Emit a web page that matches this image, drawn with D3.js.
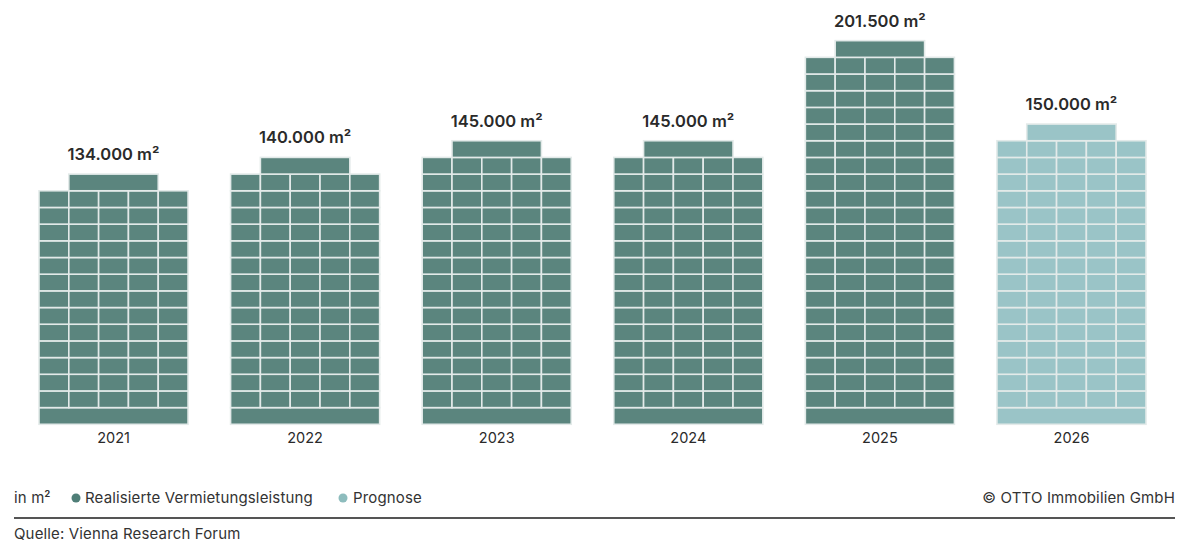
<!DOCTYPE html>
<html>
<head>
<meta charset="utf-8">
<script src="https://cdn.jsdelivr.net/npm/d3@7"></script>
<style>
  body { margin: 0; background: #fff; }
  svg text { font-family: Inter, "Noto Sans", sans-serif; }
</style>
</head>
<body>
<div class="chart"></div>
<script>
// data
var years = ['2021', '2022', '2023', '2024', '2025', '2026'];
var values = [134000, 140000, 145000, 145000, 201500, 150000];
var windowRows = [13, 14, 15, 15, 21, 16];   // window rows between base and roof
var forecast = [false, false, false, false, false, true];

var width = 1181;
var height = 544;

var darkFill = '#5b857e';
var lightFill = '#9ac4c7';
var gridLine = '#e3eae9';

var svg = d3.select('.chart')
            .append('svg')
            .attr('width', width)
            .attr('height', height);

var x = d3.scaleBand()
          .domain(years)
          .range([39, 1146])
          .paddingInner(0.222)
          .paddingOuter(0);

// one unit = one floor (base band, window row or roof)
var y = d3.scaleLinear()
          .domain([0, 23])
          .range([424.3, 424.3 - 23 * 16.68]);

var cols = 5;
var fmt = function(v) {
  return d3.format(',')(v).replace(/,/g, '.') + ' m\u00b2';
};

var bars = years.map(function(yr, i) {
  return { year: yr, value: values[i], rows: windowRows[i], forecast: forecast[i] };
});

var g = svg.selectAll('g.bar')
           .data(bars)
           .enter()
           .append('g')
           .attr('class', 'bar');

g.each(function(d) {
  var sel = d3.select(this);
  var x0 = x(d.year);
  var bw = x.bandwidth();
  var cw = bw / cols;
  var fill = d.forecast ? lightFill : darkFill;
  var cells = [];

  // base band, full width
  cells.push({ x: x0, w: bw, f0: 0, f1: 1 });
  // window rows
  for (var r = 1; r <= d.rows; r++) {
    for (var c = 0; c < cols; c++) {
      cells.push({ x: x0 + c * cw, w: cw, f0: r, f1: r + 1 });
    }
  }
  // roof over middle three columns
  cells.push({ x: x0 + cw, w: cw * 3, f0: d.rows + 1, f1: d.rows + 2 });

  sel.selectAll('rect')
     .data(cells)
     .enter()
     .append('rect')
     .attr('x', function(c) { return c.x; })
     .attr('y', function(c) { return y(c.f1); })
     .attr('width', function(c) { return c.w; })
     .attr('height', function(c) { return y(c.f0) - y(c.f1); })
     .style('fill', fill)
     .style('stroke', gridLine)
     .style('stroke-width', 1.6);

  sel.append('text')
     .attr('x', x0 + bw / 2)
     .attr('y', y(d.rows + 2) - 14)
     .attr('text-anchor', 'middle')
     .style('font-size', '16.5px')
     .style('font-weight', 600)
     .style('fill', '#2a2a2a')
     .text(fmt(d.value));

  sel.append('text')
     .attr('x', x0 + bw / 2)
     .attr('y', 443)
     .attr('text-anchor', 'middle')
     .style('font-size', '14.5px')
     .style('fill', '#2a2a2a')
     .text(d.year);
});

// legend
var legend = svg.append('g')
                .style('font-size', '15px')
                .style('letter-spacing', '0.15px')
                .style('fill', '#333');

var unitText = legend.append('text').attr('x', 14).attr('y', 503);
unitText.append('tspan').text('in m');
unitText.append('tspan').attr('dy', -6).style('font-size', '9px').style('font-weight', 700).text('2');

legend.append('circle').attr('cx', 76).attr('cy', 498).attr('r', 4.5).style('fill', '#4f7e77');
legend.append('text').attr('x', 85).attr('y', 503).text('Realisierte Vermietungsleistung');
legend.append('circle').attr('cx', 343).attr('cy', 498).attr('r', 4.5).style('fill', '#8dbcbd');
legend.append('text').attr('x', 353).attr('y', 503).text('Prognose');

legend.append('text')
      .attr('x', 1175)
      .attr('y', 503)
      .attr('text-anchor', 'end')
      .text('\u00a9 OTTO Immobilien GmbH');

svg.append('line')
   .attr('x1', 14).attr('x2', 1175)
   .attr('y1', 518).attr('y2', 518)
   .style('stroke', '#555')
   .style('stroke-width', 1.8);

svg.append('text')
   .attr('x', 14)
   .attr('y', 539)
   .style('font-size', '15px')
   .style('letter-spacing', '0.15px')
   .style('fill', '#333')
   .text('Quelle: Vienna Research Forum');
</script>
</body>
</html>
